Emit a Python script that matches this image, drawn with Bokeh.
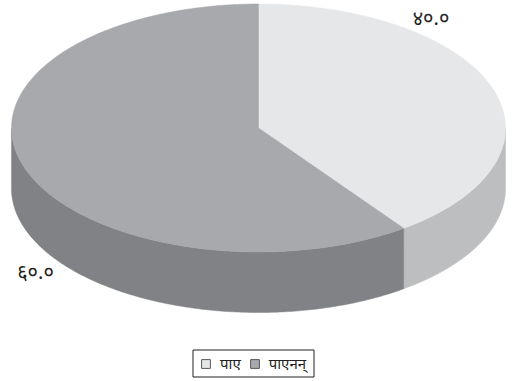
import numpy as np
from bokeh.plotting import figure
from bokeh.models import Range1d, Legend, LegendItem, ColumnDataSource, BoxAnnotation
from bokeh.core.properties import value
from bokeh.embed import file_html
from bokeh.resources import INLINE

categories = ["पाए", "पाएनन्"]
values = [40.0, 60.0]
value_labels = ["४०.०", "६०.०"]
top_colors = ["#e6e7e8", "#a7a9ac"]
side_colors = ["#bcbec0", "#808285"]
swatch_colors = ["#e6e7e8", "#a7a9ac"]

W, H = 514, 381
CX, CY, RX, RY, DEPTH = 258.0, 127.5, 247.0, 124.0, 60.5
FONT = "Noto Sans"

p = figure(width=W, height=H, x_range=Range1d(0, W), y_range=Range1d(H, 0),
           output_backend="svg", toolbar_location=None, min_border=0,
           outline_line_color=None, background_fill_color="white",
           border_fill_color="white")
p.xaxis.visible = False
p.yaxis.visible = False
p.grid.visible = False

def pt(theta):
    return CX + RX * np.sin(theta), CY - RY * np.cos(theta)

total = sum(values)
start = 0.0
for i, v in enumerate(values):
    end = start + v / total * 2 * np.pi
    a, b = max(start, np.pi / 2), min(end, 3 * np.pi / 2)
    if b > a:
        t = np.linspace(a, b, 200)
        x, y = pt(t)
        xs = np.concatenate([x, x[::-1]])
        ys = np.concatenate([y, (y + DEPTH)[::-1]])
        p.patch(xs, ys, fill_color=side_colors[i], line_color=side_colors[i], line_width=0.5)
    start = end

start = 0.0
for i, v in enumerate(values):
    end = start + v / total * 2 * np.pi
    t = np.linspace(start, end, 400)
    x, y = pt(t)
    p.patch(np.concatenate([[CX], x]), np.concatenate([[CY], y]),
            fill_color=top_colors[i], line_color=top_colors[i], line_width=0.5)
    start = end

p.text(x=[430.5], y=[17], text=[value_labels[0]], text_font=value(FONT), text_font_size="20px",
       text_align="center", text_baseline="middle", text_color="#231f20")
p.text(x=[35], y=[270.5], text=[value_labels[1]], text_font=value(FONT), text_font_size="20px",
       text_align="center", text_baseline="middle", text_color="#231f20")

frame = BoxAnnotation(left=192.5, right=313.5, top=349.5, bottom=376.5, fill_color="white", fill_alpha=1,
                      line_color="#231f20", line_alpha=1, line_width=1, level="annotation", editable=False)
p.add_layout(frame)

items = []
for c, col in zip(categories, swatch_colors):
    src = ColumnDataSource(dict(l=[np.nan], r=[np.nan], t=[np.nan], b=[np.nan]))
    r = p.quad(left="l", right="r", top="t", bottom="b", source=src,
               fill_color=col, line_color="#58595b", line_width=1)
    items.append(LegendItem(label=c, renderers=[r], index=0))
leg = Legend(items=items, orientation="horizontal", location=(194, 2),
             glyph_width=11, glyph_height=11, label_text_font=FONT, label_text_font_size="15px",
             label_text_color="#231f20", border_line_color="#231f20", border_line_alpha=0,
             padding=6, spacing=8, margin=0, label_standoff=9,
             background_fill_alpha=0)
p.add_layout(leg, "center")

open("out.html", "w").write(file_html(p, INLINE))
